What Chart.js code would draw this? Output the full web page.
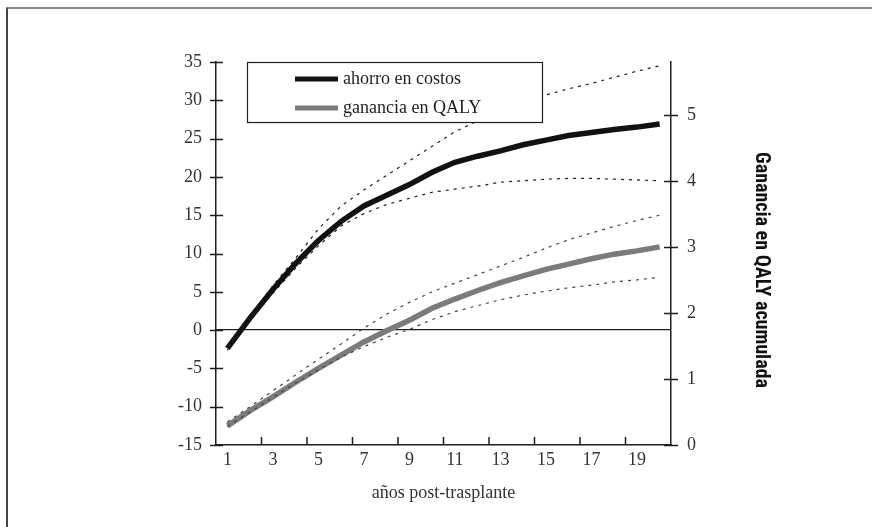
<!DOCTYPE html>
<html>
<head>
<meta charset="utf-8">
<script src="https://cdn.jsdelivr.net/npm/chart.js@4.4.1/dist/chart.umd.min.js"></script>
<style>
  html, body { margin: 0; padding: 0; background: #fff; }
  #wrap { position: relative; width: 872px; height: 527px; }
  #frame { position: absolute; left: 6px; top: 7px; right: 0; bottom: 0;
           border-top: 2px solid #8a8a8a; border-left: 2px solid #444; pointer-events: none; }
</style>
</head>
<body>
<div id="wrap">
  <canvas id="qalyChart"></canvas>
  <div id="frame"></div>
</div>
<script>
// años post-trasplante
const years = ['1','2','3','4','5','6','7','8','9','10','11','12','13','14','15','16','17','18','19','20'];

// ahorro en costos (eje izquierdo) y sus límites
const ahorro   = [-2.4, 1.6, 5.3, 8.7, 11.7, 14.2, 16.2, 17.6, 19.0, 20.6, 21.9, 22.7, 23.4, 24.2, 24.8, 25.4, 25.8, 26.2, 26.5, 26.9];
const ahorroHi = [-2.1, 1.9, 5.8, 9.4, 13.2, 16.2, 18.3, 20.2, 22.1, 24.0, 25.9, 27.3, 28.4, 29.6, 30.7, 31.5, 32.2, 33.0, 33.8, 34.5];
const ahorroLo = [-2.6, 1.2, 4.8, 8.1, 11.0, 13.6, 15.2, 16.4, 17.2, 18.0, 18.4, 18.8, 19.3, 19.5, 19.7, 19.8, 19.8, 19.7, 19.6, 19.5];

// ganancia en QALY acumulada (eje derecho) y sus límites
const qaly   = [0.29, 0.52, 0.73, 0.95, 1.16, 1.36, 1.56, 1.73, 1.89, 2.07, 2.21, 2.34, 2.46, 2.56, 2.66, 2.74, 2.82, 2.89, 2.94, 3.00];
const qalyHi = [0.35, 0.58, 0.82, 1.06, 1.30, 1.53, 1.77, 1.98, 2.16, 2.32, 2.45, 2.58, 2.71, 2.84, 2.98, 3.11, 3.21, 3.31, 3.40, 3.48];
const qalyLo = [0.28, 0.50, 0.72, 0.94, 1.14, 1.33, 1.49, 1.63, 1.75, 1.90, 2.02, 2.11, 2.20, 2.27, 2.33, 2.38, 2.42, 2.47, 2.50, 2.54];

const leftTicks = { min: -15, max: 35, step: 5 };
const rightTicks = { min: 0, max: 5.8, step: 1 };
const rightTitle = 'Ganancia en QALY acumulada';

const ink = '#1e1e1e';
const grey = '#7b7b7b';
const serif = "'Liberation Serif', 'Times New Roman', serif";

// tick marks crossing the axes, boxed legend, right-hand title
const axisMarks = {
    id: 'axisMarks',
    afterDraw(chart) {
        const { ctx, chartArea: a, scales: { x, y, y1 } } = chart;
        ctx.save();
        ctx.strokeStyle = ink;
        ctx.lineWidth = 1.5;
        ctx.beginPath();
        y.ticks.forEach(t => {
            const p = Math.round(y.getPixelForValue(t.value)) + 0.5;
            ctx.moveTo(a.left - 6, p); ctx.lineTo(a.left + 7, p);
        });
        y1.ticks.forEach(t => {
            const p = Math.round(y1.getPixelForValue(t.value)) + 0.5;
            ctx.moveTo(a.right - 7, p); ctx.lineTo(a.right + 7, p);
        });
        const half = (a.right - a.left) / years.length / 2;
        years.forEach((yr, i) => {
            if (i > 0 && i % 2 === 0) {
                const p = x.getPixelForValue(i) - half;
                ctx.moveTo(p, a.bottom); ctx.lineTo(p, a.bottom - 8);
            }
        });
        ctx.stroke();

        // legend
        const bx = a.left + 31, by = a.top, bw = 295, bh = 60;
        ctx.fillStyle = '#fff';
        ctx.fillRect(bx, by, bw, bh);
        ctx.lineWidth = 1.2;
        ctx.strokeStyle = ink;
        ctx.strokeRect(bx + 0.5, by + 0.5, bw, bh);
        ctx.font = '18px ' + serif;
        ctx.textBaseline = 'middle';
        chart.data.datasets.filter(d => !d.band).forEach((d, i) => {
            const ly = by + 17 + i * 29;
            ctx.strokeStyle = d.borderColor;
            ctx.lineWidth = 5;
            ctx.beginPath();
            ctx.moveTo(bx + 48, ly); ctx.lineTo(bx + 91, ly);
            ctx.stroke();
            ctx.fillStyle = ink;
            ctx.fillText(d.label, bx + 96, ly);
        });

        // right axis title
        ctx.translate(a.right + 90, a.top + 208);
        ctx.rotate(Math.PI / 2);
        ctx.textAlign = 'center';
        ctx.fillStyle = '#111';
        ctx.font = "bold 20px 'Liberation Sans Narrow', 'Roboto Condensed', Roboto, sans-serif";
        ctx.fillText(rightTitle, 0, 0);
        ctx.restore();
    }
};

const band = (data, color, axis) => ({
    label: '', band: true, data, yAxisID: axis,
    borderColor: color, borderWidth: 1.2, borderDash: [3, 5],
    pointRadius: 0, fill: false, tension: 0
});

new Chart(document.getElementById('qalyChart').getContext('2d'), {
    type: 'line',
    data: {
        labels: years,
        datasets: [
            band(ahorroHi, ink, 'y'),
            band(ahorroLo, ink, 'y'),
            band(qalyHi, '#444', 'y1'),
            band(qalyLo, '#444', 'y1'),
            {
                label: 'ahorro en costos',
                data: ahorro,
                yAxisID: 'y',
                borderColor: '#111',
                borderWidth: 5.5,
                pointRadius: 0,
                tension: 0
            },
            {
                label: 'ganancia en QALY',
                data: qaly,
                yAxisID: 'y1',
                borderColor: grey,
                borderWidth: 5.5,
                pointRadius: 0,
                tension: 0
            }
        ]
    },
    options: {
        responsive: true,
        maintainAspectRatio: false,
        animation: false,
        layout: { padding: { top: 62, left: 0, right: 0, bottom: 0 } },
        plugins: { legend: { display: false }, tooltip: { enabled: false } },
        scales: {
            x: {
                type: 'category',
                offset: true,
                afterFit: s => { s.height = 82; },
                grid: { display: false, drawTicks: false },
                border: { display: true, color: ink, width: 1.5 },
                ticks: {
                    autoSkip: false, maxRotation: 0, padding: 4,
                    color: '#333', font: { family: serif, size: 18 },
                    callback: (v, i) => (i % 2 === 0 ? years[i] : '')
                },
                title: {
                    display: true, text: 'años post-trasplante',
                    color: '#333', font: { family: serif, size: 18 },
                    padding: { top: 0, bottom: 23 }
                }
            },
            y: {
                type: 'linear',
                position: 'left',
                min: leftTicks.min,
                max: leftTicks.max,
                afterFit: s => { s.width = 216; },
                grid: {
                    drawTicks: false, lineWidth: 1.3,
                    color: c => (c.tick && c.tick.value === 0 ? ink : 'transparent')
                },
                border: { display: true, color: ink, width: 1.5 },
                ticks: {
                    stepSize: leftTicks.step, padding: 14,
                    color: '#333', font: { family: serif, size: 18 }
                }
            },
            y1: {
                type: 'linear',
                position: 'right',
                min: rightTicks.min,
                max: rightTicks.max,
                afterFit: s => { s.width = 872 - 671; },
                grid: { drawOnChartArea: false, drawTicks: false },
                border: { display: true, color: ink, width: 1.5 },
                ticks: {
                    stepSize: rightTicks.step, includeBounds: false, padding: 16,
                    color: '#333', font: { family: serif, size: 18 }
                }
            }
        }
    },
    plugins: [axisMarks]
});
</script>
</body>
</html>
